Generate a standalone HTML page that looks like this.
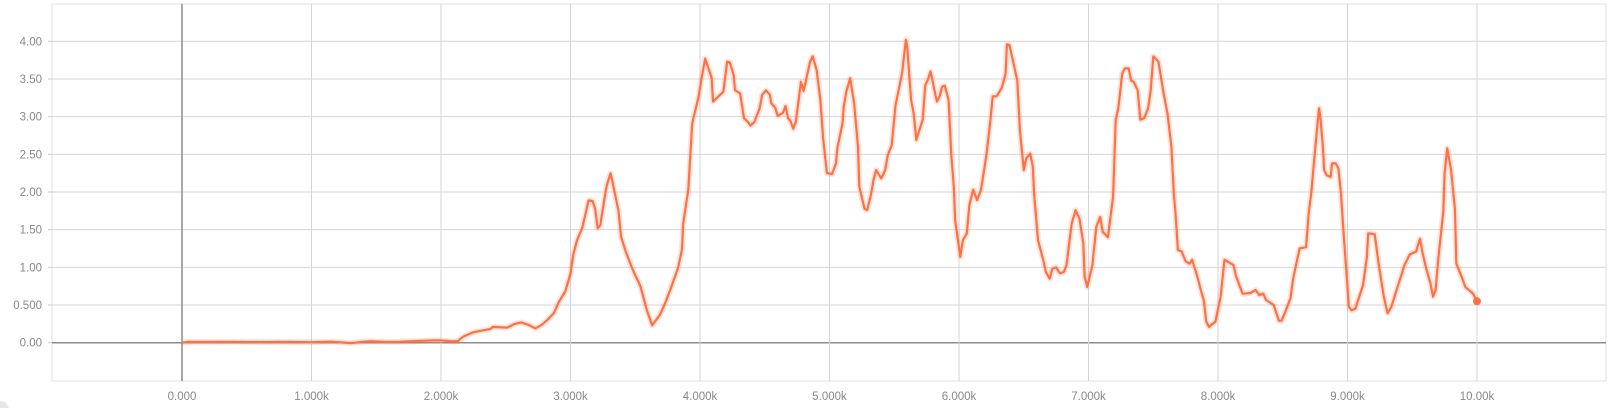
<!DOCTYPE html>
<html><head><meta charset="utf-8"><style>
html,body{margin:0;padding:0;background:#fff;}
svg{display:block;font-family:"Liberation Sans",sans-serif;}
</style></head><body>
<svg id="chart" width="1611" height="408" viewBox="0 0 1611 408" xmlns="http://www.w3.org/2000/svg">
<g id="grid"></g>
<g id="axes"></g>
<g id="series"></g>
<circle cx="0" cy="410" r="9" fill="#e6e6e6"/>
</svg>
<script>
const steps = [0,50,200,400,600,800,1000,1150,1300,1450,1550,1680,1940,1990,2080,2130,2170,2250,2380,2400,2510,2570,2620,2670,2730,2780,2820,2870,2910,2960,3000,3020,3050,3090,3140,3170,3190,3210,3230,3260,3280,3310,3370,3390,3430,3480,3540,3590,3630,3690,3730,3770,3830,3860,3870,3910,3940,3990,4010,4040,4090,4100,4180,4210,4230,4260,4270,4310,4340,4370,4390,4420,4460,4480,4510,4540,4550,4580,4600,4640,4660,4680,4700,4720,4740,4760,4780,4800,4850,4870,4900,4930,4950,4980,5020,5050,5060,5100,5110,5130,5160,5190,5220,5230,5270,5290,5320,5340,5360,5400,5430,5450,5480,5510,5560,5590,5600,5630,5650,5670,5720,5740,5760,5780,5800,5820,5830,5850,5870,5890,5920,5940,5960,5970,6010,6030,6060,6080,6110,6140,6170,6190,6210,6240,6260,6290,6330,6360,6370,6390,6450,6470,6500,6520,6550,6570,6580,6610,6650,6670,6700,6720,6750,6780,6810,6830,6870,6900,6930,6960,6970,6990,7030,7060,7090,7110,7150,7190,7210,7230,7260,7280,7310,7330,7350,7380,7400,7430,7460,7480,7500,7540,7580,7610,7640,7660,7670,7690,7720,7750,7780,7800,7840,7870,7890,7910,7930,7980,8020,8050,8120,8140,8170,8190,8250,8290,8320,8350,8370,8430,8470,8490,8520,8560,8580,8610,8630,8680,8700,8720,8750,8780,8790,8810,8820,8840,8870,8880,8910,8930,8950,8970,9000,9010,9030,9060,9090,9120,9150,9160,9210,9240,9280,9310,9340,9370,9390,9420,9440,9480,9530,9560,9580,9610,9640,9660,9680,9700,9740,9750,9770,9800,9830,9840,9880,9910,9970,10000];
const values = [0.0,0.012,0.01,0.012,0.008,0.01,0.006,0.015,-0.005,0.02,0.012,0.013,0.03,0.03,0.02,0.02,0.08,0.14,0.18,0.21,0.2,0.25,0.27,0.24,0.19,0.24,0.3,0.39,0.54,0.68,0.92,1.16,1.36,1.52,1.89,1.88,1.78,1.52,1.56,1.89,2.09,2.25,1.76,1.41,1.19,0.97,0.75,0.43,0.23,0.37,0.52,0.7,0.99,1.23,1.58,2.03,2.91,3.27,3.49,3.77,3.51,3.2,3.33,3.73,3.72,3.55,3.35,3.31,2.98,2.93,2.88,2.93,3.11,3.29,3.35,3.29,3.18,3.12,3.01,3.05,3.14,2.98,2.94,2.84,2.93,3.2,3.46,3.34,3.73,3.8,3.62,3.22,2.73,2.25,2.24,2.38,2.58,2.91,3.13,3.33,3.51,3.18,2.6,2.07,1.78,1.76,1.96,2.16,2.29,2.18,2.29,2.49,2.62,3.15,3.57,4.02,3.93,3.22,3.04,2.69,2.96,3.42,3.49,3.6,3.44,3.27,3.2,3.27,3.4,3.41,3.22,2.51,2.07,1.63,1.14,1.36,1.45,1.83,2.03,1.89,2.03,2.25,2.47,2.91,3.27,3.27,3.38,3.57,3.96,3.95,3.48,2.82,2.29,2.45,2.51,2.34,1.98,1.36,1.1,0.94,0.85,0.98,1.0,0.92,0.94,1.03,1.58,1.76,1.65,1.32,0.88,0.74,1.03,1.54,1.67,1.47,1.4,1.94,2.96,3.11,3.57,3.64,3.64,3.48,3.46,3.35,2.96,2.98,3.11,3.35,3.8,3.73,3.31,3.04,2.6,1.94,1.76,1.23,1.21,1.08,1.05,1.1,0.88,0.68,0.56,0.28,0.21,0.28,0.61,1.1,1.03,0.88,0.74,0.65,0.66,0.7,0.63,0.65,0.57,0.5,0.29,0.29,0.41,0.59,0.85,1.09,1.25,1.27,1.72,1.98,2.56,3.11,3.0,2.6,2.29,2.22,2.2,2.38,2.38,2.31,1.98,1.45,0.74,0.48,0.43,0.45,0.61,0.76,1.14,1.45,1.44,1.05,0.61,0.39,0.48,0.65,0.76,0.92,1.03,1.17,1.21,1.38,1.19,0.97,0.79,0.61,0.7,1.1,1.74,2.25,2.58,2.29,1.76,1.05,0.88,0.74,0.65,0.55];
const yTicks = [0,0.5,1,1.5,2,2.5,3,3.5,4];
const yTickLabels = ["0.00","0.500","1.00","1.50","2.00","2.50","3.00","3.50","4.00"];
const xTicks = [0,1000,2000,3000,4000,5000,6000,7000,8000,9000,10000];
const xTickLabels = ["0.000","1.000k","2.000k","3.000k","4.000k","5.000k","6.000k","7.000k","8.000k","9.000k","10.00k"];

const NS="http://www.w3.org/2000/svg";
const L=52,R=1606,T=4,B=381;
const xs = s => 182 + s*0.1295;
const ys = v => 342.7 - v*75.35;
function mk(tag, parent, attrs){const e=document.createElementNS(NS,tag);for(const k in attrs)e.setAttribute(k,attrs[k]);parent.appendChild(e);return e;}
const grid=document.getElementById('grid'), axes=document.getElementById('axes'), series=document.getElementById('series');
let e=mk('rect',grid,{x:L,y:T,width:R-L,height:B-T,fill:'none',stroke:'#e0e0e0','stroke-width':1});


yTicks.forEach((v,i)=>{
  const y=ys(v);
  const g=mk('line',grid,{x1:L,x2:R,y1:y,y2:y,stroke:v===0?'#8c8c8c':'#d6d6d6','stroke-width':v===0?1.5:1});
  
  
  const tk=mk('line',axes,{x1:L-4,x2:L,y1:y,y2:y,stroke:'#ccc'});
  
  
  const t=mk('text',axes,{x:42,y:y+4,'text-anchor':'end','font-size':'11.5',fill:'#888'});
  t.textContent=yTickLabels[i];
  
  
});
xTicks.forEach((s,i)=>{
  const x=xs(s);
  const g=mk('line',grid,{x1:x,x2:x,y1:T,y2:B,stroke:s===0?'#8c8c8c':'#d6d6d6','stroke-width':s===0?1.5:1});
  
  
  const t=mk('text',axes,{x:x,y:400,'text-anchor':'middle','font-size':'11.5',fill:'#888'});
  t.textContent=xTickLabels[i];
  
  
});
const d = steps.map((s,i)=>(i?'L':'M')+xs(s).toFixed(1)+','+ys(values[i]).toFixed(1)).join(' ');
let halo=mk('path',series,{d:d,fill:'none',stroke:'#ff7043','stroke-opacity':0.18,'stroke-width':6,'stroke-linejoin':'round'});


let ln=mk('path',series,{d:d,fill:'none',stroke:'#ff7043','stroke-width':2.2,'stroke-linejoin':'round'});


const n=steps.length-1;
let dot=mk('circle',series,{cx:xs(steps[n]),cy:ys(values[n]),r:4,fill:'#ff7043'});


</script>
</body></html>
